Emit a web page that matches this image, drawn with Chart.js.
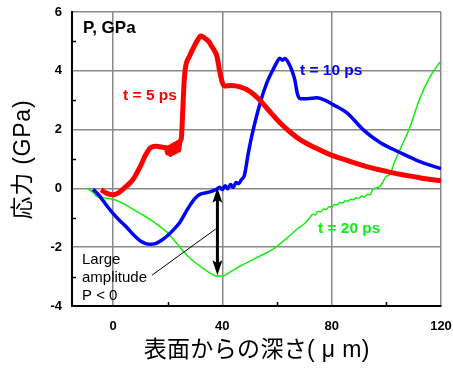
<!DOCTYPE html>
<html>
<head>
<meta charset="utf-8">
<script src="https://cdn.jsdelivr.net/npm/chart.js@4/dist/chart.umd.min.js"></script>
<style>
  html, body { margin: 0; padding: 0; background: #fff; }
  #wrap { width: 453px; height: 368px; }
</style>
</head>
<body>
<div id="wrap"><canvas id="myChart" width="453" height="368"></canvas></div>
<script>
// 深さ (μm) と 応力 (GPa) の読み取り値
const red5X = [-4.4, -2, 0, 2, 4, 7.3, 10, 12, 14, 16, 18, 19.5, 20, 20.5, 21, 21.5, 22, 22.5, 23, 23.5, 24, 24.5, 25, 25.5, 26, 26.5, 28, 29.5, 31, 32, 33, 34, 35, 36, 37, 38, 39, 40, 41, 43, 46.5, 50, 53.8, 57, 61, 65, 68.4, 74, 79.4, 85, 90.4, 95, 100, 105, 110, 115, 120];
const red5Y = [-0.05, -0.18, -0.22, -0.15, 0.0, 0.3, 0.75, 1.15, 1.4, 1.43, 1.4, 1.38, 1.2, 1.4, 1.15, 1.45, 1.2, 1.5, 1.25, 1.55, 1.3, 1.6, 1.7, 2.6, 3.6, 4.1, 4.5, 4.8, 5.05, 5.18, 5.15, 5.08, 5.0, 4.85, 4.7, 4.5, 4.0, 3.6, 3.48, 3.5, 3.45, 3.3, 3.0, 2.65, 2.24, 1.9, 1.66, 1.38, 1.15, 0.97, 0.81, 0.69, 0.58, 0.48, 0.4, 0.32, 0.26];

const blue10X = [-7.3, -5, -2.2, 0, 2.5, 5, 7.5, 9.9, 12, 13.5, 15.5, 17.5, 19.8, 22, 24.5, 27, 29.3, 31, 32.5, 34.4, 36, 37.9, 39, 40, 41, 42, 43, 44, 45, 46, 47, 48, 48.5, 49.5, 51.3, 53.8, 56.3, 58.5, 60, 61, 62, 63, 64, 65.5, 66.5, 67.5, 68.5, 71, 74.6, 77.5, 80.5, 85.6, 91.5, 97.7, 105, 112, 120];
const blue10Y = [-0.03, -0.25, -0.6, -0.85, -1.1, -1.32, -1.58, -1.78, -1.88, -1.9, -1.88, -1.78, -1.62, -1.42, -1.15, -0.75, -0.42, -0.25, -0.18, -0.14, -0.1, -0.03, 0.04, -0.04, 0.09, -0.01, 0.13, 0.03, 0.2, 0.16, 0.3, 0.42, 0.64, 1.2, 2.0, 2.9, 3.6, 4.03, 4.3, 4.43, 4.36, 4.42, 4.3, 4.0, 3.7, 3.2, 3.05, 3.05, 3.08, 3.0, 2.85, 2.57, 2.0, 1.56, 1.22, 0.92, 0.67];

const green20X = [-9.5, -7.5, -5.9, -3, 0, 3.5, 7.3, 10.5, 13.5, 16.5, 19.8, 22.5, 25.6, 28.5, 31.8, 35, 38, 40, 43, 46.5, 50, 53.8, 57, 60, 63.5, 67.3, 70, 72, 73, 74, 75, 76, 77, 78, 79, 80, 81, 82, 83, 84, 85, 86, 87, 88, 89, 90, 91, 92, 93, 94, 95, 97.7, 100, 101.3, 103, 105, 108.7, 112, 116, 119.6];
const green20Y = [0, -0.12, -0.27, -0.33, -0.37, -0.5, -0.71, -0.88, -1.05, -1.25, -1.5, -1.78, -2.13, -2.4, -2.64, -2.85, -2.98, -2.98, -2.83, -2.64, -2.48, -2.3, -2.15, -1.97, -1.7, -1.39, -1.2, -1.0, -0.88, -0.9, -0.78, -0.8, -0.7, -0.72, -0.62, -0.64, -0.55, -0.56, -0.48, -0.5, -0.42, -0.44, -0.37, -0.39, -0.32, -0.34, -0.26, -0.3, -0.2, -0.22, -0.04, 0.07, 0.41, 0.47, 0.9, 1.32, 2.1, 3.0, 3.8, 4.3];

const xTickVals = [0, 40, 80, 120];
const xMinorVals = [20, 60, 100];
const yTickVals = [-4, -2, 0, 2, 4, 6];
const yMinorVals = [-3, -1, 1, 3, 5];

const seriesLabels = ['t = 5 ps', 't = 10 ps', 't = 20 ps'];
const xTitle = '表面からの深さ( μ m)';
const yTitle = '応力 (GPa)';

const toPts = (xs, ys) => xs.map((x, i) => ({ x: x, y: ys[i] }));

const LATIN = "'Liberation Sans', Arial, 'Noto Sans CJK JP', sans-serif";

// 幅を合わせて文字列を描く
function fillSpaced(ctx, text, cx, cy, targetW) {
    ctx.letterSpacing = '0px';
    const w = ctx.measureText(text).width;
    const sp = Math.max(0, (targetW - w) / text.length);
    ctx.letterSpacing = sp.toFixed(2) + 'px';
    ctx.fillText(text, cx + sp / 2, cy);
    ctx.letterSpacing = '0px';
}

// 注記・軸タイトル・補助目盛を描くプラグイン
const decoPlugin = {
    id: 'deco',
    afterDatasetsDraw(chart) {
        const { ctx, chartArea: a, scales: { x, y } } = chart;
        ctx.save();

        // 補助目盛 (内向き)
        ctx.strokeStyle = '#000';
        ctx.lineWidth = 1.5;
        ctx.beginPath();
        yMinorVals.forEach(v => {
            const py = Math.round(y.getPixelForValue(v)) + 0.5;
            ctx.moveTo(a.left, py); ctx.lineTo(a.left + 4, py);
        });
        xMinorVals.forEach(v => {
            const px = Math.round(x.getPixelForValue(v)) + 0.5;
            ctx.moveTo(px, a.bottom); ctx.lineTo(px, a.bottom - 4);
        });
        ctx.stroke();

        // 引き出し線
        ctx.lineWidth = 1;
        ctx.beginPath();
        ctx.moveTo(x.getPixelForValue(14.3), y.getPixelForValue(-2.95));
        ctx.lineTo(x.getPixelForValue(37.6), y.getPixelForValue(-1.38));
        ctx.stroke();

        // 両矢印
        const ax = x.getPixelForValue(38.2);
        const yTop = y.getPixelForValue(0.02);
        const yBot = y.getPixelForValue(-2.95);
        ctx.lineWidth = 3;
        ctx.beginPath();
        ctx.moveTo(ax, yTop + 10); ctx.lineTo(ax, yBot - 10);
        ctx.stroke();
        ctx.fillStyle = '#000';
        ctx.beginPath();
        ctx.moveTo(ax, yTop); ctx.lineTo(ax - 5, yTop + 15); ctx.lineTo(ax, yTop + 12); ctx.lineTo(ax + 5, yTop + 15); ctx.closePath();
        ctx.fill();
        ctx.beginPath();
        ctx.moveTo(ax, yBot); ctx.lineTo(ax - 5, yBot - 15); ctx.lineTo(ax, yBot - 12); ctx.lineTo(ax + 5, yBot - 15); ctx.closePath();
        ctx.fill();

        // テキスト
        ctx.textBaseline = 'alphabetic';
        ctx.textAlign = 'left';
        ctx.font = 'bold 17px ' + LATIN;
        ctx.fillStyle = '#000';
        ctx.fillText('P, GPa', 83, 33);
        ctx.font = 'bold 15.5px ' + LATIN;
        ctx.fillStyle = '#ff0000';
        ctx.fillText(seriesLabels[0], x.getPixelForValue(3.7), y.getPixelForValue(3.0));
        ctx.fillStyle = '#0000ff';
        ctx.fillText(seriesLabels[1], x.getPixelForValue(68.4), y.getPixelForValue(3.85));
        ctx.fillStyle = '#11ee11';
        ctx.fillText(seriesLabels[2], x.getPixelForValue(75), y.getPixelForValue(-1.5));

        ctx.fillStyle = '#000';
        ctx.font = '15px ' + LATIN;
        ctx.fillText('Large', 82, 264);
        ctx.fillText('amplitude', 82, 282);
        ctx.fillText('P < 0', 82, 300);

        // 軸タイトル
        ctx.font = '23px ' + LATIN;
        ctx.textAlign = 'center';
        ctx.textBaseline = 'middle';
        fillSpaced(ctx, xTitle, (a.left + a.right) / 2, 351, 226);
        ctx.translate(24, 160);
        ctx.rotate(-Math.PI / 2);
        fillSpaced(ctx, yTitle, 0, 0, 120);
        ctx.restore();
    }
};

let myChart;

function renderChart() {
    const ctx = document.getElementById('myChart').getContext('2d');
    if (myChart) {
        myChart.destroy();
    }

    const config = {
        type: 'line',
        data: {
            datasets: [
                {
                    label: seriesLabels[0],
                    data: toPts(red5X, red5Y),
                    borderColor: '#ff0000',
                    borderWidth: 5,
                    pointRadius: 0,
                    cubicInterpolationMode: 'monotone'
                },
                {
                    label: seriesLabels[1],
                    data: toPts(blue10X, blue10Y),
                    borderColor: '#0000ff',
                    borderWidth: 3.5,
                    pointRadius: 0,
                    cubicInterpolationMode: 'monotone'
                },
                {
                    label: seriesLabels[2],
                    data: toPts(green20X, green20Y),
                    borderColor: '#11ee11',
                    borderWidth: 1.5,
                    pointRadius: 0,
                    cubicInterpolationMode: 'monotone'
                }
            ]
        },
        options: {
            responsive: false,
            animation: false,
            layout: { padding: { left: 0, top: 12, right: 12, bottom: 0 } },
            plugins: {
                legend: { display: false },
                tooltip: { enabled: false }
            },
            scales: {
                x: {
                    type: 'linear',
                    min: -15,
                    max: 120,
                    afterBuildTicks: (s) => { s.ticks = xTickVals.map(v => ({ value: v })); },
                    afterFit: (s) => { s.height = 62; s.paddingLeft = 0; s.paddingRight = 0; },
                    grid: { color: '#888', lineWidth: 1.5, drawTicks: false },
                    border: { color: '#000', width: 2 },
                    ticks: {
                        padding: 13,
                        color: '#000',
                        font: { family: LATIN, size: 13, weight: 'bold' },
                        maxRotation: 0
                    }
                },
                y: {
                    min: -4,
                    max: 6,
                    afterBuildTicks: (s) => { s.ticks = yTickVals.map(v => ({ value: v })); },
                    afterFit: (s) => { s.width = 72; s.paddingTop = 0; s.paddingBottom = 0; },
                    grid: { color: '#888', lineWidth: 1.5, drawTicks: false },
                    border: { color: '#000', width: 2 },
                    ticks: {
                        padding: 10,
                        color: '#000',
                        font: { family: LATIN, size: 13, weight: 'bold' }
                    }
                }
            }
        },
        plugins: [decoPlugin]
    };

    myChart = new Chart(ctx, config);
}

renderChart();
</script>
</body>
</html>
